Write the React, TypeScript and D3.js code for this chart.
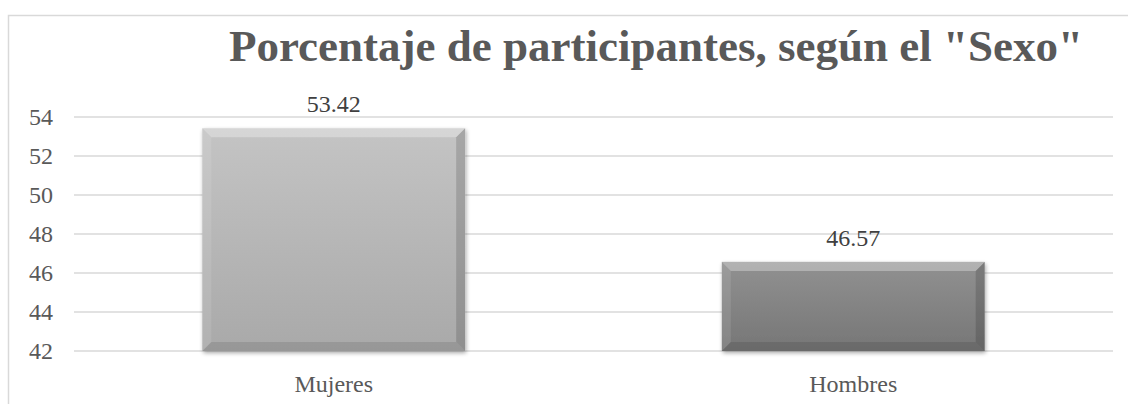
import React from 'react';
import * as d3 from 'd3';

const categories = ['Mujeres', 'Hombres'];
const values = [53.42, 46.57];
const valueLabels = ['53.42', '46.57'];
const yTicks = [42, 44, 46, 48, 50, 52, 54];
const title = 'Porcentaje de participantes, según el "Sexo"';

const W = 1128;
const H = 404;
const font = "'Liberation Serif', 'DejaVu Serif', serif";
const textColor = '#595959';

// top/bottom colours of each bar face
const barColors = [
  ['#c4c4c4', '#a9a9a9'],
  ['#919191', '#767676'],
];

const App = () => {
  const margin = { left: 74, right: 15, top: 117, bottom: 53 };
  const x = d3.scaleBand()
    .domain(categories)
    .range([margin.left, W - margin.right])
    .paddingInner(0.494)
    .paddingOuter(0.247);

  const y = d3.scaleLinear()
    .domain([42, 54])
    .range([H - margin.bottom, margin.top]);

  const bev = 9;

  return (
    <svg width={W} height={H} style={{ position: 'absolute', left: 0, top: 0, display: 'block' }}>
      <defs>
        {barColors.map((c, i) => (
          <linearGradient key={i} id={`face${i}`} x1="0" y1="0" x2="0" y2="1">
            <stop offset="0%" stopColor={c[0]} />
            <stop offset="100%" stopColor={c[1]} />
          </linearGradient>
        ))}
        <filter id="shadow" x="-5%" y="-5%" width="115%" height="115%">
          <feGaussianBlur in="SourceAlpha" stdDeviation="2" />
          <feOffset dx="1" dy="2" result="b" />
          <feComponentTransfer><feFuncA type="linear" slope="0.35" /></feComponentTransfer>
          <feMerge><feMergeNode /><feMergeNode in="SourceGraphic" /></feMerge>
        </filter>
      </defs>

      <rect x={0} y={0} width={W} height={H} fill="#fff" />
      {/* chart frame */}
      <path d={`M8.5,${H} V15.5 H${W}`} fill="none" stroke="#d9d9d9" strokeWidth={1.5} />

      <text x={656} y={61} textAnchor="middle" fill={textColor} fontFamily={font}
        fontWeight="bold" fontSize={45}>{title}</text>

      {/* grid and y ticks */}
      {yTicks.map(t => (
        <g key={t}>
          <line x1={margin.left} x2={W - margin.right} y1={y(t)} y2={y(t)} stroke="#d9d9d9" strokeWidth={1.5} />
          <text x={53} y={y(t) + 8} textAnchor="end" fill={textColor} fontFamily={font} fontSize={24}>{t}</text>
        </g>
      ))}

      {/* bars with bevel */}
      {categories.map((c, i) => {
        const x0 = x(c)!;
        const w = x.bandwidth();
        const y0 = y(values[i]);
        const y1 = y(42);
        const x1 = x0 + w;
        return (
          <g key={c}>
            <rect x={x0} y={y0} width={w} height={y1 - y0} fill={`url(#face${i})`} filter="url(#shadow)" />
            <polygon points={`${x0},${y0} ${x1},${y0} ${x1 - bev},${y0 + bev} ${x0 + bev},${y0 + bev}`} fill="#fff" opacity={0.3} />
            <polygon points={`${x0},${y0} ${x0 + bev},${y0 + bev} ${x0 + bev},${y1 - bev} ${x0},${y1}`} fill="#fff" opacity={0.1} />
            <polygon points={`${x1},${y0} ${x1},${y1} ${x1 - bev},${y1 - bev} ${x1 - bev},${y0 + bev}`} fill="#000" opacity={0.15} />
            <polygon points={`${x0},${y1} ${x1},${y1} ${x1 - bev},${y1 - bev} ${x0 + bev},${y1 - bev}`} fill="#000" opacity={0.1} />
            <text x={x0 + w / 2} y={y0 - 16} textAnchor="middle" fill="#404040" fontFamily={font} fontSize={24}>{valueLabels[i]}</text>
            <text x={x0 + w / 2} y={392} textAnchor="middle" fill={textColor} fontFamily={font} fontSize={24}>{c}</text>
          </g>
        );
      })}
    </svg>
  );
};

export default App;
